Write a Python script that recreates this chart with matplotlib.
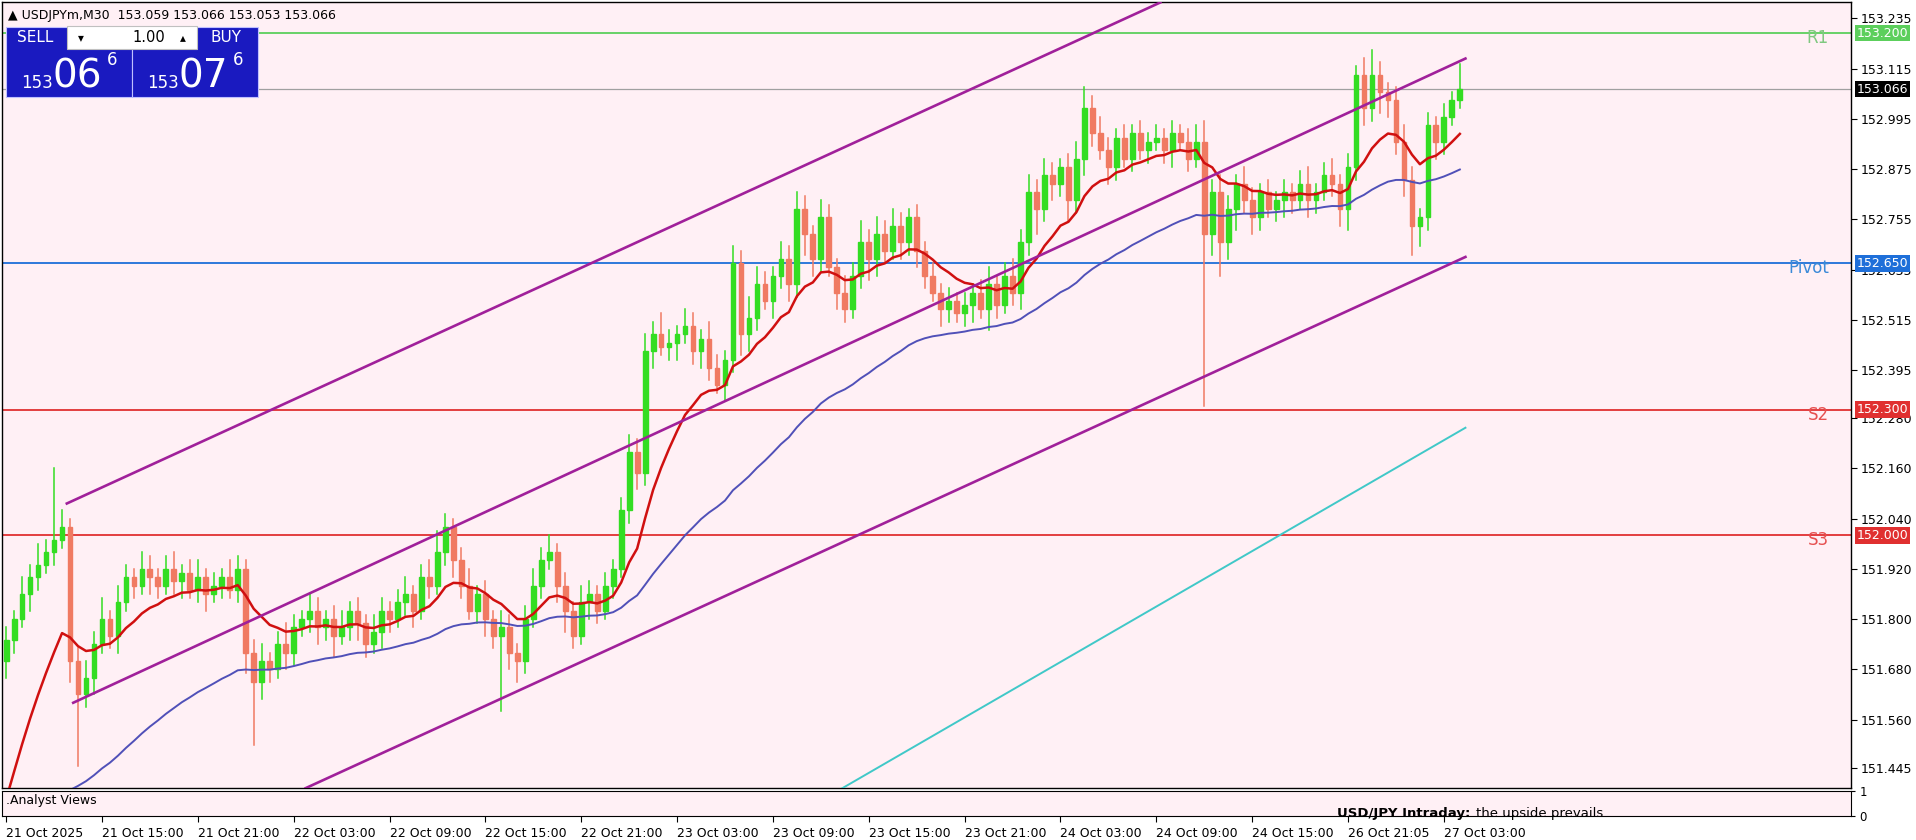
import matplotlib.pyplot as plt
from matplotlib.patches import Rectangle
from matplotlib.transforms import blended_transform_factory
import numpy as np
import pandas as pd

# closing prices, one per 30-minute bar
closes = [151.75,151.80,151.86,151.90,151.93,151.96,151.99,152.02,151.70,151.62,
          151.66,151.74,151.80,151.76,151.84,151.90,151.88,151.92,151.90,151.88,
          151.92,151.89,151.91,151.87,151.90,151.86,151.88,151.90,151.87,151.92,
          151.72,151.65,151.70,151.68,151.74,151.72,151.78,151.80,151.82,151.78,
          151.80,151.76,151.78,151.82,151.79,151.74,151.77,151.82,151.80,151.84,
          151.86,151.82,151.90,151.88,151.96,152.02,151.94,151.88,151.82,151.86,
          151.80,151.76,151.78,151.72,151.70,151.80,151.88,151.94,151.96,151.88,
          151.82,151.76,151.84,151.86,151.82,151.88,151.92,152.06,152.20,152.15,
          152.44,152.48,152.45,152.46,152.48,152.50,152.44,152.47,152.40,152.36,
          152.42,152.65,152.48,152.52,152.60,152.56,152.62,152.66,152.60,152.78,
          152.72,152.66,152.76,152.64,152.58,152.54,152.62,152.70,152.66,152.72,
          152.68,152.74,152.70,152.76,152.68,152.62,152.58,152.54,152.56,152.53,
          152.55,152.58,152.54,152.60,152.55,152.62,152.58,152.70,152.82,152.78,
          152.86,152.84,152.88,152.80,152.90,153.02,152.96,152.92,152.88,152.95,
          152.90,152.96,152.92,152.94,152.95,152.92,152.96,152.94,152.90,152.94,
          152.72,152.82,152.70,152.78,152.84,152.80,152.76,152.82,152.78,152.80,
          152.82,152.80,152.84,152.80,152.82,152.86,152.84,152.78,152.88,153.10,
          153.02,153.10,153.06,153.04,152.94,152.85,152.74,152.76,152.98,152.94,
          153.00,153.04,153.066]
first_open = 151.70
# wick lengths above/below the body
upper_wick = [0.03,0.02,0.04,0.03,0.05,0.03,0.17,0.04,0.02,0.03,
              0.04,0.03,0.05,0.02,0.04,0.03,0.02,0.04,0.03,0.02,
              0.03,0.04,0.02,0.03,0.04,0.02,0.03,0.02,0.04,0.03,
              0.02,0.03,0.04,0.02,0.03,0.05,0.03,0.02,0.04,0.03,
              0.02,0.03,0.04,0.02,0.03,0.02,0.04,0.03,0.02,0.03,
              0.04,0.02,0.03,0.04,0.05,0.03,0.02,0.03,0.04,0.02,
              0.03,0.02,0.04,0.03,0.02,0.03,0.04,0.03,0.04,0.02,
              0.03,0.02,0.04,0.03,0.02,0.03,0.02,0.03,0.04,0.03,
              0.04,0.03,0.05,0.03,0.02,0.04,0.03,0.02,0.04,0.03,
              0.02,0.04,0.03,0.05,0.04,0.03,0.02,0.04,0.03,0.04,
              0.03,0.02,0.04,0.03,0.02,0.04,0.03,0.05,0.03,0.04,
              0.03,0.04,0.03,0.02,0.03,0.02,0.03,0.02,0.03,0.02,
              0.03,0.02,0.03,0.04,0.02,0.03,0.04,0.03,0.04,0.03,
              0.04,0.03,0.02,0.03,0.04,0.05,0.03,0.04,0.03,0.02,
              0.03,0.02,0.03,0.02,0.03,0.02,0.03,0.02,0.03,0.04,
              0.05,0.03,0.04,0.03,0.02,0.04,0.03,0.02,0.03,0.02,
              0.03,0.02,0.03,0.04,0.02,0.03,0.04,0.02,0.03,0.02,
              0.04,0.06,0.03,0.02,0.03,0.04,0.03,0.02,0.03,0.02,
              0.03,0.02,0.06]
lower_wick = [0.04,0.03,0.02,0.04,0.03,0.02,0.03,0.02,0.05,0.17,
              0.03,0.04,0.02,0.03,0.04,0.02,0.03,0.02,0.04,0.03,
              0.02,0.03,0.04,0.02,0.03,0.04,0.02,0.03,0.02,0.03,
              0.05,0.15,0.04,0.03,0.02,0.04,0.03,0.02,0.03,0.04,
              0.03,0.05,0.02,0.03,0.04,0.03,0.02,0.04,0.03,0.02,
              0.03,0.04,0.02,0.03,0.02,0.03,0.04,0.03,0.02,0.03,
              0.04,0.03,0.18,0.04,0.05,0.03,0.02,0.03,0.02,0.04,
              0.05,0.03,0.02,0.04,0.03,0.02,0.03,0.02,0.03,0.04,
              0.03,0.04,0.02,0.03,0.04,0.02,0.03,0.04,0.03,0.02,
              0.04,0.03,0.05,0.04,0.03,0.02,0.04,0.03,0.04,0.03,
              0.05,0.04,0.03,0.02,0.04,0.03,0.02,0.03,0.05,0.04,
              0.03,0.02,0.04,0.03,0.04,0.03,0.02,0.04,0.03,0.02,
              0.03,0.04,0.02,0.05,0.03,0.02,0.03,0.04,0.03,0.06,
              0.03,0.04,0.03,0.05,0.03,0.04,0.03,0.02,0.04,0.03,
              0.02,0.03,0.02,0.03,0.02,0.03,0.04,0.02,0.03,0.02,
              0.41,0.05,0.08,0.04,0.05,0.03,0.04,0.03,0.02,0.03,
              0.04,0.03,0.02,0.04,0.03,0.02,0.03,0.04,0.05,0.03,
              0.04,0.03,0.05,0.04,0.03,0.04,0.07,0.05,0.03,0.04,
              0.03,0.02,0.02]

levels = [153.200, 152.650, 152.300, 152.000]
level_names = ["R1", "Pivot", "S2", "S3"]
level_colors = ["#5ccf5c", "#1e6fd9", "#e03030", "#e03030"]
level_text_colors = ["#7fc87f", "#3b8ad8", "#e65050", "#e65050"]
last_price = 153.066

# channel lines as (bar, price) end points
channel_upper = [(7.6, 152.076), (144.5, 153.273)]
channel_mid = [(8.4, 151.600), (182.7, 153.139)]
channel_lower = [(37.5, 151.396), (182.7, 152.665)]
slow_ma = [(104.7, 151.396), (182.7, 152.257)]

ytick_vals = [153.235, 153.115, 152.995, 152.875, 152.755, 152.635, 152.515, 152.395,
              152.280, 152.160, 152.040, 151.920, 151.800, 151.680, 151.560, 151.445]
xtick_pos = [0, 12, 24, 36, 48, 60, 72, 84, 96, 108, 120, 132, 144, 156, 168, 180]
xtick_labels = ["21 Oct 2025", "21 Oct 15:00", "21 Oct 21:00", "22 Oct 03:00", "22 Oct 09:00",
                "22 Oct 15:00", "22 Oct 21:00", "23 Oct 03:00", "23 Oct 09:00", "23 Oct 15:00",
                "23 Oct 21:00", "24 Oct 03:00", "24 Oct 09:00", "24 Oct 15:00", "26 Oct 21:05",
                "27 Oct 03:00"]

W, H = 1916, 840
S = 1916 / 1568  # layout was measured on a scaled view
def fx(v):
    return v * S / W
def fy(v):
    return 1 - v * S / H

bg = "#fff0f5"
fig = plt.figure(figsize=(W / 100, H / 100), dpi=100)
fig.patch.set_facecolor("white")
ax = fig.add_axes([fx(2), fy(645), fx(1513), 643 * S / H])
ax.set_facecolor(bg)

c = np.array(closes)
o = np.concatenate([[first_open], c[:-1]])
hi = np.maximum(o, c) + np.array(upper_wick)
lo = np.minimum(o, c) - np.array(lower_wick)
idx = np.arange(len(c))
up = c >= o
green, red = "#33dd22", "#f07a62"
for i in idx:
    col = green if up[i] else red
    ax.plot([i, i], [lo[i], hi[i]], color=col, lw=1.1, zorder=3)
    b0, b1 = min(o[i], c[i]), max(o[i], c[i])
    ax.add_patch(Rectangle((i - 0.3, b0), 0.6, max(b1 - b0, 0.004), color=col, zorder=3))

# moving averages computed from the closes
fast = pd.Series([151.30] + closes).ewm(span=12, adjust=False).mean().values[1:]
mid = pd.Series([151.15] + closes).ewm(span=45, adjust=False).mean().values[1:]
ax.plot(idx, fast, color="#d01010", lw=1.8, zorder=4)
ax.plot(idx, mid, color="#5050b8", lw=1.4, zorder=4)
ax.plot(*zip(*slow_ma), color="#40c8c8", lw=1.4, zorder=4)
for ln in (channel_upper, channel_mid, channel_lower):
    ax.plot(*zip(*ln), color="#a0209a", lw=1.9, zorder=4)

tr = blended_transform_factory(ax.transAxes, ax.transData)
for lv, nm, lc, tc in zip(levels, level_names, level_colors, level_text_colors):
    ax.axhline(lv, color=lc, lw=1.3, zorder=2)
    ax.text(0.988, lv - 0.012, nm, transform=tr, ha="right", va="center", color=tc, fontsize=12)
    ax.text(1.003, lv, f"{lv:.3f}", transform=tr, ha="left", va="center", color="white", fontsize=9,
            bbox=dict(boxstyle="square,pad=0.15", fc=lc, ec="none"), zorder=6, clip_on=False)
ax.axhline(last_price, color="#a0a0a0", lw=0.9, zorder=2)
ax.text(1.003, last_price, f"{last_price:.3f}", transform=tr, ha="left", va="center", color="white",
        fontsize=9, bbox=dict(boxstyle="square,pad=0.15", fc="black", ec="none"), zorder=6, clip_on=False)

ax.set_xlim(-0.46, 231)
ax.set_ylim(151.396, 153.273)
ax.yaxis.tick_right()
ax.set_yticks(ytick_vals)
ax.set_yticklabels([f"{v:.3f}" for v in ytick_vals], fontsize=9)
ax.tick_params(axis="y", length=4, pad=3)
ax.set_xticks([])
for s in ax.spines.values():
    s.set_linewidth(1)

# header and trade panel
ax.text(0.003, 0.992, "\u25b2 USDJPYm,M30  153.059 153.066 153.053 153.066", transform=ax.transAxes,
        va="top", fontsize=9)
for x0, lab, lx in [(5, "SELL", 29), (108, "BUY", 185)]:
    fig.patches.append(Rectangle((fx(x0), fy(79)), fx(103), 57 * S / H, transform=fig.transFigure,
                                 fc="#1a1ac0", ec="#c0c0ff", lw=0.8, zorder=10))
    fig.text(fx(lx), fy(31), lab, color="white", fontsize=11,
             ha="center", va="center", zorder=11)
fig.patches.append(Rectangle((fx(55), fy(40)), fx(106), 19 * S / H, transform=fig.transFigure,
                             fc="white", ec="#c0c0c0", lw=0.8, zorder=11))
fig.text(fx(135), fy(31), "1.00", fontsize=10.5, ha="right", va="center", zorder=12)
fig.text(fx(66), fy(31), "\u25be", fontsize=8.5, ha="center", va="center", zorder=12)
fig.text(fx(150), fy(31), "\u25b4", fontsize=8.5, ha="center", va="center", zorder=12)
for x0, big in [(30, "06"), (133, "07")]:
    fig.text(fx(x0), fy(72), "153", color="white", fontsize=12, ha="center", va="baseline", zorder=12)
    fig.text(fx(x0 + 33), fy(72), big, color="white", fontsize=28, ha="center", va="baseline", zorder=12)
    fig.text(fx(x0 + 62), fy(53), "6", color="white", fontsize=12, ha="center", va="baseline", zorder=12)

# sub window
sub = fig.add_axes([fx(2), fy(668), fx(1513), 21 * S / H])
sub.set_facecolor(bg)
sub.set_xlim(-0.46, 231)
sub.set_ylim(0, 1)
sub.yaxis.tick_right()
sub.set_yticks([0, 1])
sub.set_yticklabels(["0", "1"], fontsize=8.5)
sub.tick_params(axis="y", length=3, pad=3)
sub.set_xticks(xtick_pos)
sub.set_xticklabels(xtick_labels, fontsize=9, ha="left")
sub.tick_params(axis="x", length=4, pad=4)
sub.text(0.002, 0.6, ".Analyst Views", transform=sub.transAxes, va="center", fontsize=9)
sub.text(0.722, 0.12, "USD/JPY Intraday:", transform=sub.transAxes, va="center", fontsize=9.5, fontweight="bold")
sub.text(0.797, 0.12, "the upside prevails.", transform=sub.transAxes, va="center", fontsize=9.5)

fig.savefig("out.png", dpi=100, facecolor="white")
